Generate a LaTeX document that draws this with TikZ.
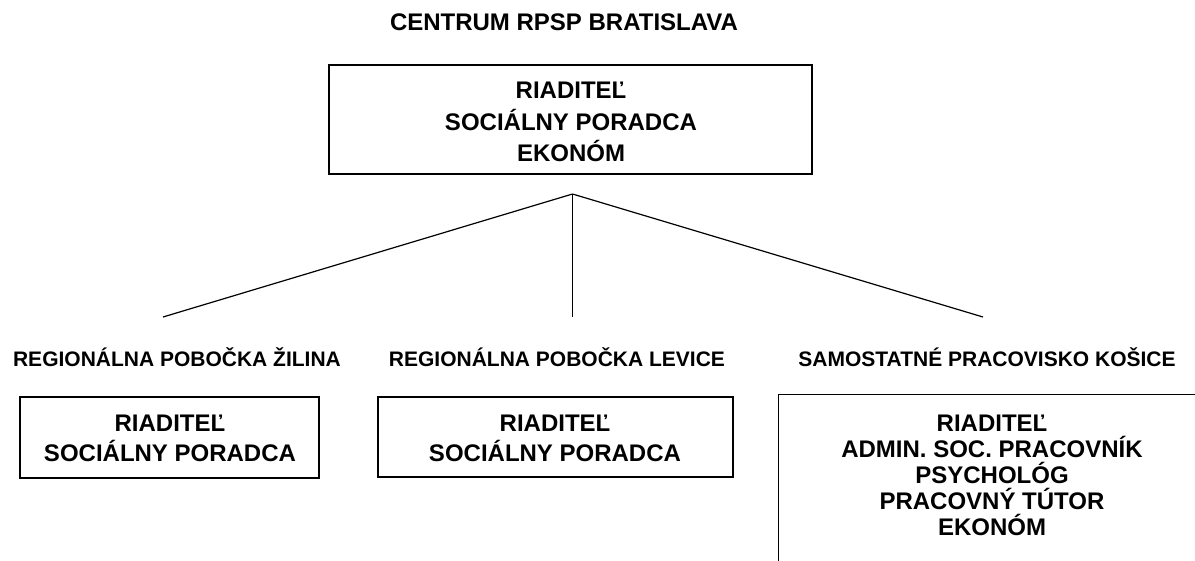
\documentclass[tikz,border=0pt]{standalone}
\usepackage{fontspec}
\setmainfont{Liberation Sans}
\begin{document}
\begin{tikzpicture}[x=1pt,y=-1pt,
  frame/.style={draw, line width=1.3pt, inner sep=0pt},
  boxtext/.style={inner sep=0pt, align=center, font=\bfseries\fontsize{24}{30}\selectfont},
  lbl/.style={inner sep=0pt, font=\bfseries\fontsize{21}{25}\selectfont},
  link/.style={line width=1.2pt}]
\useasboundingbox (0,0) rectangle (1195,560);
\clip (0,0) rectangle (1195,560);

% title
\node[lbl, font=\bfseries\fontsize{24}{28}\selectfont] (title) at (564,22) {CENTRUM RPSP BRATISLAVA};

% head box
\node[frame, minimum width=483pt, minimum height=109pt] (centrum) at (570.5,119.5) {};
\node[boxtext, font=\bfseries\fontsize{24}{31.5}\selectfont] (centrumtext) at (571,122) {RIADITEĽ\\SOCIÁLNY PORADCA\\EKONÓM};

% connector points
\coordinate (apex) at (572.5,194);
\coordinate (endL) at (163,317);
\coordinate (endM) at (572.5,317);
\coordinate (endR) at (983,317);
\draw[link] (apex) -- (endL);
\draw[link] (apex) -- (endM);
\draw[link] (apex) -- (endR);

% branch labels
\node[lbl] (zilina) at (177,357) {REGIONÁLNA POBOČKA ŽILINA};
\node[lbl] (levice) at (557,357) {REGIONÁLNA POBOČKA LEVICE};
\node[lbl] (kosice) at (987,357) {SAMOSTATNÉ PRACOVISKO KOŠICE};

% branch boxes
\node[frame, minimum width=299pt, minimum height=81pt] (zilinabox) at (169.5,437.5) {};
\node[boxtext] (zilinatext) at (170,438) {RIADITEĽ\\SOCIÁLNY PORADCA};

\node[frame, minimum width=355pt, minimum height=80pt] (levicebox) at (555.5,437) {};
\node[boxtext] (levicetext) at (555,438) {RIADITEĽ\\SOCIÁLNY PORADCA};

\node[frame, minimum width=428pt, minimum height=226pt, anchor=north west] (kosicebox) at (778,394) {};
\node[boxtext, font=\bfseries\fontsize{24}{26}\selectfont] (kosicetext) at (992,475) {RIADITEĽ\\ADMIN. SOC. PRACOVNÍK\\PSYCHOLÓG\\PRACOVNÝ TÚTOR\\EKONÓM};
\end{tikzpicture}
\end{document}
